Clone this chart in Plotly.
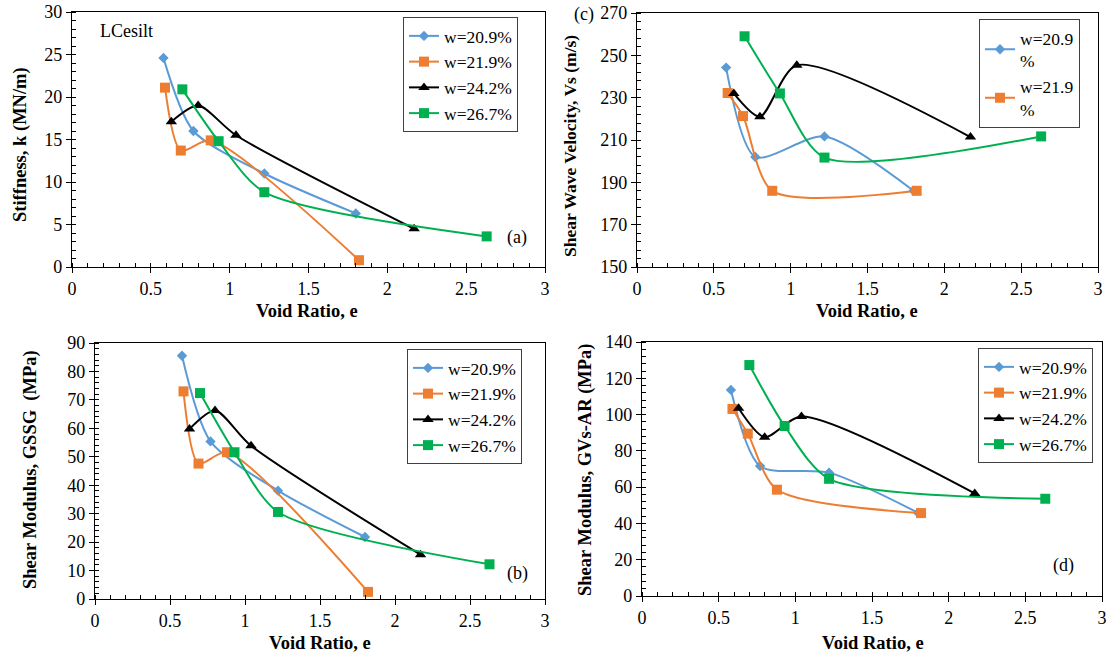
import plotly.graph_objects as go

W, H = 1111, 657

# ---------------- data ----------------
series_names = ["w=20.9%", "w=21.9%", "w=24.2%", "w=26.7%"]
series_names_c = ["w=20.9<br>%", "w=21.9<br>%", "w=24.2%", "w=26.7%"]
colors = ["#5B9BD5", "#ED7D31", "#000000", "#00B050"]
symbols = ["diamond", "square", "triangle-up", "square"]
msizes = [8, 10, 10, 10]

e_w209 = [0.58, 0.77, 1.22, 1.80]
e_w219 = [0.59, 0.69, 0.88, 1.82]
e_w242 = [0.63, 0.80, 1.04, 2.17]
e_w267 = [0.70, 0.93, 1.22, 2.63]
void_ratio = [e_w209, e_w219, e_w242, e_w267]

# (a) stiffness k (MN/m)
k_w209 = [24.6, 16.0, 11.0, 6.3]
k_w219 = [21.1, 13.7, 14.9, 0.8]
k_w242 = [17.1, 19.0, 15.5, 4.5]
k_w267 = [20.9, 14.8, 8.8, 3.6]
stiffness = [k_w209, k_w219, k_w242, k_w267]

# (c) shear wave velocity Vs (m/s)
vs_w209 = [244.2, 202.0, 211.7, 186.0]
vs_w219 = [232.2, 221.3, 186.0, 186.0]
vs_w242 = [232.0, 221.0, 245.3, 211.4]
vs_w267 = [259.0, 232.0, 201.7, 211.7]
velocity = [vs_w209, vs_w219, vs_w242, vs_w267]

# (b) shear modulus GSSG (MPa)
g_w209 = [85.5, 55.4, 38.1, 21.8]
g_w219 = [73.0, 47.6, 51.6, 2.5]
g_w242 = [59.8, 66.3, 53.9, 15.6]
g_w267 = [72.4, 51.6, 30.6, 12.2]
g_ssg = [g_w209, g_w219, g_w242, g_w267]

# (d) shear modulus GVs-AR (MPa)
gv_w209 = [113.6, 71.6, 68.0, 45.9]
gv_w219 = [103.1, 89.5, 58.6, 45.7]
gv_w242 = [103.5, 87.5, 98.9, 56.5]
gv_w267 = [127.3, 93.7, 64.6, 53.6]
g_vsar = [gv_w209, gv_w219, gv_w242, gv_w267]

x_ticks = [0, 0.5, 1, 1.5, 2, 2.5, 3]

FONT = "Liberation Serif, Times New Roman, serif"
TICKF = dict(family=FONT, size=18, color="black")


def px_x(p):
    return p / W


def px_y(p):
    return 1 - p / H


fig = go.Figure()

panels = [
    ("a", stiffness, series_names, "x", "y", "legend", [True, True, True, True]),
    ("c", velocity, series_names_c, "x2", "y2", "legend2", [True, True, False, False]),
    ("b", g_ssg, series_names, "x3", "y3", "legend3", [True, True, True, True]),
    ("d", g_vsar, series_names, "x4", "y4", "legend4", [True, True, True, True]),
]

for key, vals, names, xa, ya, lg, shows in panels:
    for i in range(4):
        fig.add_trace(go.Scatter(
            x=void_ratio[i], y=vals[i], name=names[i],
            mode="lines+markers",
            line=dict(color=colors[i], width=2, shape="spline", smoothing=0.75),
            marker=dict(symbol=symbols[i], size=msizes[i], color=colors[i]),
            xaxis=xa, yaxis=ya, legend=lg, showlegend=shows[i],
        ))


def xaxis_cfg(x0, x1, y_anchor):
    return dict(
        domain=[px_x(x0), px_x(x1)], range=[0, 3], tickvals=x_ticks,
        ticktext=[str(v) for v in x_ticks], anchor=y_anchor, automargin=False,
        showgrid=False, zeroline=False, showline=True, linecolor="black",
        linewidth=1.3, mirror=True, ticks="outside", ticklen=5, tickcolor="black",
        minor=dict(dtick=0.1, ticks="inside", ticklen=4, tickcolor="black", showgrid=False),
        tickfont=TICKF,
    )


def yaxis_cfg(y_top, y_bot, rng, dtick, mdtick, x_anchor):
    return dict(
        domain=[px_y(y_bot), px_y(y_top)], range=rng, dtick=dtick, tick0=rng[0],
        anchor=x_anchor, automargin=False, showgrid=False, zeroline=False, showline=True,
        linecolor="black", linewidth=1.3, mirror=True, ticks="outside", ticklen=5,
        tickcolor="black",
        minor=dict(dtick=mdtick, tick0=rng[0], ticks="inside", ticklen=4,
                   tickcolor="black", showgrid=False),
        tickfont=TICKF,
    )


def legend_cfg(x0, y0):
    return dict(
        x=px_x(x0), y=px_y(y0), xanchor="left", yanchor="top",
        bordercolor="#404040", borderwidth=1, bgcolor="white",
        font=dict(family=FONT, size=17.5, color="black"),
        tracegroupgap=0, itemwidth=30,
    )


fig.update_layout(
    width=W, height=H, margin=dict(l=0, r=0, t=0, b=0),
    paper_bgcolor="white", plot_bgcolor="white",
    xaxis=xaxis_cfg(72, 545, "y"),
    yaxis=yaxis_cfg(12, 267, [0, 30], 5, 1, "x"),
    xaxis2=xaxis_cfg(637, 1098, "y2"),
    yaxis2=yaxis_cfg(13, 267, [150, 270], 20, 4, "x2"),
    xaxis3=xaxis_cfg(95, 545, "y3"),
    yaxis3=yaxis_cfg(343, 599, [0, 90], 10, 2, "x3"),
    xaxis4=xaxis_cfg(642, 1102, "y4"),
    yaxis4=yaxis_cfg(342, 596, [0, 140], 20, 4, "x4"),
    legend=legend_cfg(403, 17),
    legend2=legend_cfg(979, 19),
    legend3=legend_cfg(407, 349),
    legend4=legend_cfg(978, 348),
    showlegend=True,
)

ann = []


def add_text(text, x, y, bold=False, angle=0, xanchor="center", size=18):
    f = dict(family=FONT, size=size, color="black")
    if bold:
        f["weight"] = "bold"
    ann.append(dict(text=text, x=px_x(x), y=px_y(y), xref="paper", yref="paper",
                    showarrow=False, textangle=angle, font=f,
                    xanchor=xanchor, yanchor="middle"))


add_text("Stiffness, k (MN/m)", 20, 145, bold=True, angle=-90, size=18.5)
add_text("Shear Wave Velocity, Vs (m/s)", 570, 146, bold=True, angle=-90, size=17.5)
add_text("Shear Modulus, GSSG  (MPa)", 30, 470, bold=True, angle=-90, size=18.5)
add_text("Shear Modulus, GVs-AR (MPa)", 585, 470, bold=True, angle=-90, size=18.5)
add_text("Void Ratio, e", 307, 311, bold=True, size=18.5)
add_text("Void Ratio, e", 867, 311, bold=True, size=18.5)
add_text("Void Ratio, e", 320, 643, bold=True, size=18.5)
add_text("Void Ratio, e", 873, 643, bold=True, size=18.5)
add_text("LCesilt", 98, 31, xanchor="left")
add_text("(a)", 517, 237)
add_text("(c)", 584, 15)
add_text("(b)", 517, 573)
add_text("(d)", 1063, 565)

fig.update_layout(annotations=ann)

fig.write_html(
    "out.html",
    config={"displayModeBar": False},
    post_script="document.body.style.margin='0';document.body.style.overflow='hidden';",
)
